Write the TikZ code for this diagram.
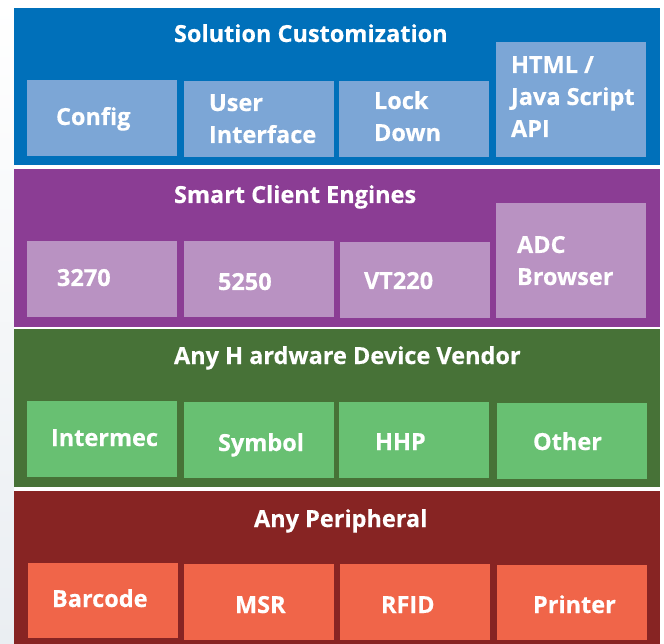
\documentclass[tikz,border=0pt]{standalone}
\usepackage{fontspec}
\setmainfont{Open Sans}[BoldFeatures={FakeBold=0.4}]
\definecolor{bandblue}{RGB}{0,112,186}
\definecolor{boxblue}{RGB}{124,166,214}
\definecolor{bandpurple}{RGB}{139,61,148}
\definecolor{boxpurple}{RGB}{185,146,194}
\definecolor{bandgreen}{RGB}{71,114,55}
\definecolor{boxgreen}{RGB}{104,192,114}
\definecolor{bandred}{RGB}{135,36,35}
\definecolor{boxred}{RGB}{240,101,73}
\definecolor{margin}{RGB}{234,238,242}
\tikzset{
  band/.style={anchor=north west,inner sep=0pt,outer sep=0pt,minimum width=646pt,draw=none},
  cell/.style={anchor=north west,inner sep=0pt,outer sep=0pt,minimum width=150pt,draw=none},
  lbl/.style={anchor=base west,inner sep=0pt,outer sep=0pt,text=white,font=\bfseries\fontsize{23.5}{32}\selectfont,align=left},
}
\begin{document}
\begin{tikzpicture}[x=1pt,y=-1pt]
\useasboundingbox (0,0) rectangle (664,644);
\shade[top color=white,bottom color=margin] (0,0) rectangle (14,644);
% bands
\node[band,fill=bandblue,minimum height=157pt] (b1) at (14,8) {};
\node[band,fill=bandpurple,minimum height=158pt] (b2) at (14,169) {};
\node[band,fill=bandgreen,minimum height=158pt] (b3) at (14,329) {};
\node[band,fill=bandred,minimum height=153pt] (b4) at (14,491) {};
% blue cells
\node[cell,fill=boxblue,minimum height=76pt] (c11) at (27,80) {};
\node[cell,fill=boxblue,minimum height=76pt] (c12) at (184,81) {};
\node[cell,fill=boxblue,minimum height=76pt] (c13) at (339,81) {};
\node[cell,fill=boxblue,minimum height=115pt] (c14) at (496,42) {};
% purple cells
\node[cell,fill=boxpurple,minimum height=76pt] (c21) at (27,241) {};
\node[cell,fill=boxpurple,minimum height=76pt] (c22) at (184,241) {};
\node[cell,fill=boxpurple,minimum height=76pt] (c23) at (340,242) {};
\node[cell,fill=boxpurple,minimum height=115pt] (c24) at (496,203) {};
% green cells
\node[cell,fill=boxgreen,minimum height=76pt] (c31) at (27,401) {};
\node[cell,fill=boxgreen,minimum height=76pt] (c32) at (184,402) {};
\node[cell,fill=boxgreen,minimum height=76pt] (c33) at (339,402) {};
\node[cell,fill=boxgreen,minimum height=76pt] (c34) at (497,403) {};
% red cells
\node[cell,fill=boxred,minimum height=75pt] (c41) at (28,563) {};
\node[cell,fill=boxred,minimum height=76pt] (c42) at (184,564) {};
\node[cell,fill=boxred,minimum height=76pt] (c43) at (340,564) {};
\node[cell,fill=boxred,minimum height=75pt] (c44) at (497,565) {};
% titles
\node[lbl] (t1) at (174,42) {Solution Customization};
\node[lbl] (t2) at (174,203) {Smart Client Engines};
\node[lbl] (t3) at (174,364) {Any H ardware Device Vendor};
\node[lbl] (t4) at (254,527) {Any Peripheral};
% cell labels (anchor = baseline of last line)
\node[lbl] (l11) at (56,125) {Config};
\node[lbl] (l12) at (209,143) {User\\Interface};
\node[lbl] (l13) at (374,141) {Lock\\Down};
\node[lbl] (l14) at (511,137) {HTML /\\Java Script\\API};
\node[lbl] (l21) at (57,286) {3270};
\node[lbl] (l22) at (218,290) {5250};
\node[lbl] (l23) at (364,289) {VT220};
\node[lbl] (l24) at (517,285) {ADC\\Browser};
\node[lbl] (l31) at (51,446) {Intermec};
\node[lbl] (l32) at (218,451) {Symbol};
\node[lbl] (l33) at (375,450) {HHP};
\node[lbl] (l34) at (533,450) {Other};
\node[lbl] (l41) at (52,607) {Barcode};
\node[lbl] (l42) at (235,613) {MSR};
\node[lbl] (l43) at (381,613) {RFID};
\node[lbl] (l44) at (533,613) {Printer};
\end{tikzpicture}
\end{document}
